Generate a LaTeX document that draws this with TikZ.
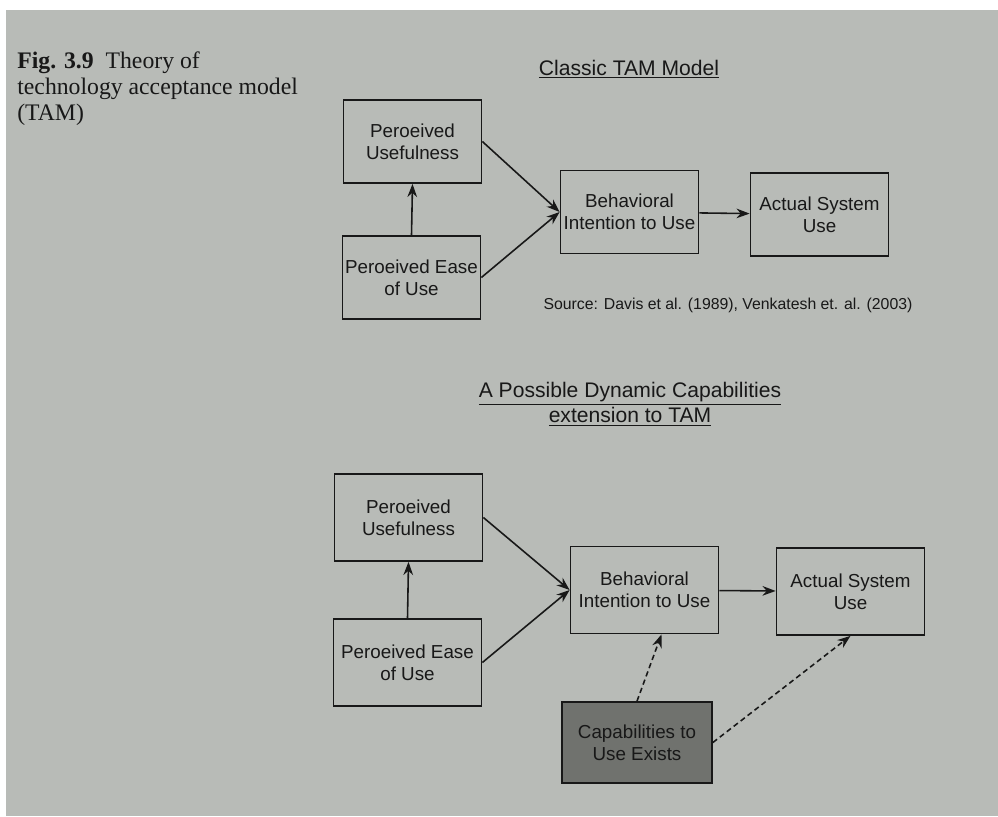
\documentclass[tikz,border=0pt]{standalone}
\usepackage{fontspec}
\setmainfont{Liberation Serif}
\setsansfont{Liberation Sans}
\usetikzlibrary{arrows.meta,calc}
\definecolor{carta}{RGB}{184,187,183}
\definecolor{scuro}{RGB}{112,114,110}
\definecolor{inchiostro}{RGB}{24,24,24}
\tikzset{
>={Stealth[length=7.5pt,width=5.5pt]},
scatola/.style={draw=inchiostro,line width=1pt,align=center,inner sep=1pt,text=inchiostro,font=\sffamily\fontsize{10.7}{12.6}\selectfont},
piccola/.style={scatola,minimum width=2.76cm,minimum height=1.66cm},
grande/.style={scatola,minimum width=2.96cm,minimum height=1.74cm},
freccia/.style={->,line width=0.9pt,draw=inchiostro},
tratteggio/.style={freccia,dash pattern=on 3pt off 2pt},
titolo/.style={inner sep=0pt,align=center,text=inchiostro,font=\sffamily\fontsize{12}{14.2}\selectfont}}

\begin{document}
\begin{tikzpicture}[x=0.02cm,y=-0.02cm]

\useasboundingbox (0,0) rectangle (998,816);
\fill[white] (0,0) rectangle (998,816);
\fill[carta] (6,10) rectangle (998,816);

% didascalia
\node[anchor=north west,inner sep=0pt,align=left,text=inchiostro,font=\fontsize{13.5}{14.8}\selectfont] (didascalia) at (17,51)
  {\textbf{Fig. 3.9}\enspace Theory of\\technology acceptance model\\(TAM)};

% modello classico
\node[titolo,anchor=base] (titolo1) at (629,75) {\underline{Classic TAM Model}};
\node[piccola] (pu1) at (412.5,141.5) {Peroeived\\Usefulness};
\node[piccola] (pe1) at (411.5,277.5) {Peroeived Ease\\of Use};
\node[piccola] (bi1) at (629.5,212) {Behavioral\\Intention to Use};
\node[piccola] (as1) at (819.5,214.5) {Actual System\\Use};
\node[inner sep=0pt,text=inchiostro,font=\sffamily\fontsize{9}{11}\selectfont] (fonte) at (728,305)
  {Source: Davis et al. (1989), Venkatesh et. al. (2003)};

\draw[freccia] (pe1.north) -- (pu1.south);
\draw[freccia] (pu1.east) -- (bi1.west);
\draw[freccia] (pe1.east) -- (bi1.west);
\draw[freccia] (bi1) -- (as1);

% estensione
\node[titolo,anchor=north] (titolo2) at (630,382)
  {\underline{A Possible Dynamic Capabilities}\\\underline{extension to TAM}};
\node[grande] (pu2) at (408.5,517.5) {Peroeived\\Usefulness};
\node[grande] (pe2) at (407.5,662.5) {Peroeived Ease\\of Use};
\node[grande] (bi2) at (644.5,590) {Behavioral\\Intention to Use};
\node[grande] (as2) at (850.5,591.5) {Actual System\\Use};
\node[scatola,fill=scuro,minimum width=3cm,minimum height=1.62cm] (cap) at (637,742.5) {Capabilities to\\Use Exists};

\draw[freccia] (pe2.north) -- (pu2.south);
\draw[freccia] (pu2.east) -- (bi2.west);
\draw[freccia] (pe2.east) -- (bi2.west);
\draw[freccia] (bi2) -- (as2);
\draw[tratteggio] (cap.north) -- ([xshift=0.34cm]bi2.south);
\draw[tratteggio] (cap.east) -- (as2.south);

\end{tikzpicture}
\end{document}
